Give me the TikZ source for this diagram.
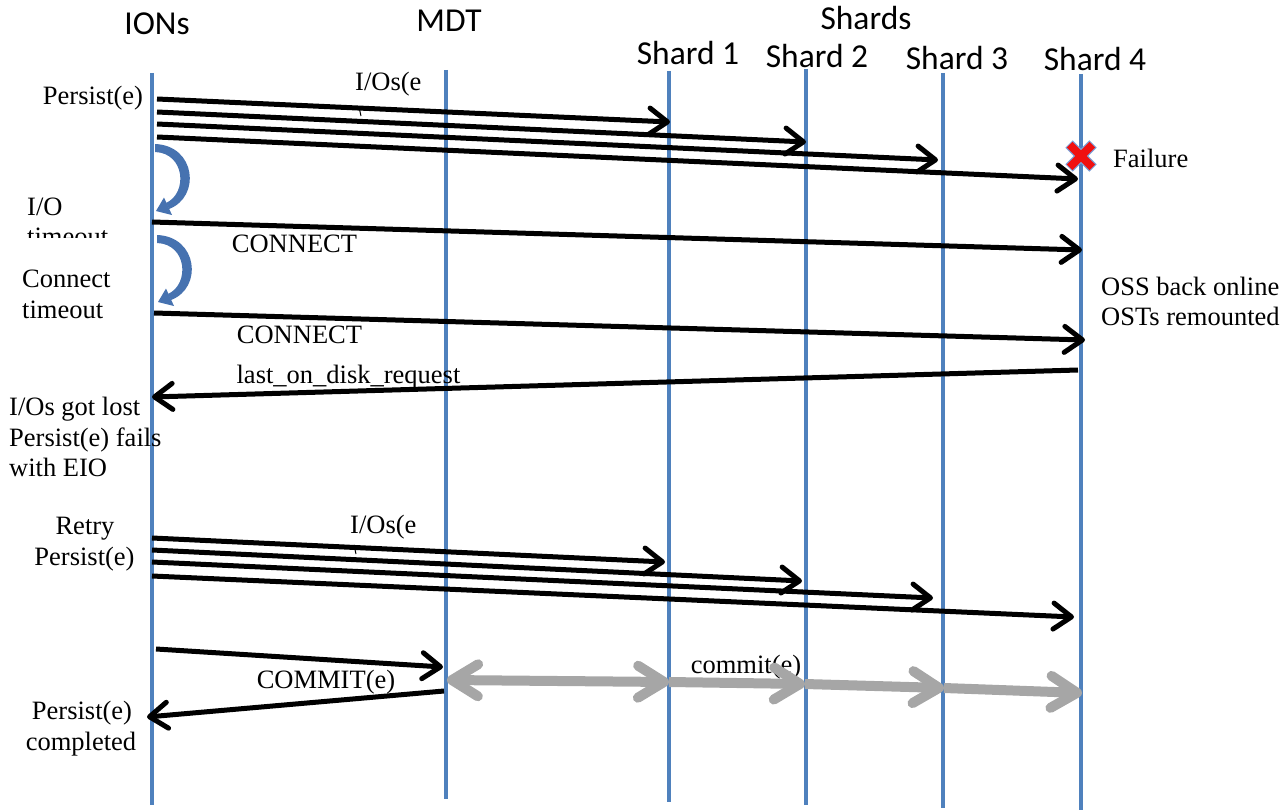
\documentclass[tikz,border=0pt]{standalone}
\usepackage{fontspec}
\setmainfont{Liberation Serif}
\newfontfamily\hdrfont{Carlito}
\usetikzlibrary{arrows.meta}
\definecolor{lifeblue}{HTML}{4F81BD}
\definecolor{curveblue}{HTML}{4672B0}
\definecolor{commitgray}{HTML}{A6A6A6}
\definecolor{failred}{HTML}{F01010}
\definecolor{failedge}{HTML}{7C9FD6}
\begin{document}
\begin{tikzpicture}[x=1bp,y=-1bp,
  lifeline/.style={draw=lifeblue,line width=4.6bp},
  hdr/.style={font=\hdrfont\fontsize{33.6}{36}\selectfont, inner sep=0pt, anchor=base},
  lbl/.style={font=\fontsize{26.6}{30}\selectfont, inner sep=0pt, anchor=base},
  lbll/.style={lbl, anchor=base west},
  msg/.style={draw=black,line width=5bp,-{Straight Barb[length=18bp,width=26bp,round]}},
  cmt/.style={draw=commitgray,line width=10bp,-{Straight Barb[length=26bp,width=32bp,round]}},
  cmtboth/.style={cmt,{Straight Barb[length=26bp,width=32bp,round]}-{Straight Barb[length=26bp,width=32bp,round]}},
  loopback/.style={fill=curveblue}]
\useasboundingbox (0,0) rectangle (1288,811);

% lifelines
\coordinate (ionT) at (152,73);   \coordinate (ionB) at (152,805);
\coordinate (mdtT) at (446,70);   \coordinate (mdtB) at (446,799);
\coordinate (s1T) at (669,71);    \coordinate (s1B) at (669,802);
\coordinate (s2T) at (806,69);    \coordinate (s2B) at (806,805);
\coordinate (s3T) at (943,73);    \coordinate (s3B) at (943,808);
\coordinate (s4T) at (1081,74);   \coordinate (s4B) at (1081,810);
\foreach \a/\b in {ionT/ionB,mdtT/mdtB,s1T/s1B,s2T/s2B,s3T/s3B,s4T/s4B}
  \draw[lifeline] (\a) -- (\b);

% headers
\node[hdr] (hIONs) at (157,35) {IONs};
\node[hdr] (hMDT) at (449,32) {MDT};
\node[hdr] (hShards) at (866,30) {Shards};
\node[hdr] (hS1) at (688,65) {Shard 1};
\node[hdr] (hS2) at (817,68) {Shard 2};
\node[hdr] (hS3) at (957,70) {Shard 3};
\node[hdr] (hS4) at (1095,71) {Shard 4};

% labels
\node[lbl] (tPersist) at (93,105) {Persist(e)};
\node[lbll] (tIOs) at (355,91) {I/Os(e};
\draw[line width=1bp] (359,107) -- (361,116);
\node[lbll] (tFailure) at (1113,167) {Failure};
\node[lbll] (tIO) at (27,215) {I/O};
\begin{scope}
  \clip (0,0) rectangle (140,237.5);
  \node[lbll] (tIOtime) at (27,245) {timeout};
\end{scope}
\node[lbl] (tConn1) at (294.5,252) {CONNECT};
\node[lbll] (tConnect) at (22,287) {Connect};
\node[lbll] (tConnTime) at (22,318) {timeout};
\node[lbl] (tConn2) at (299.5,343) {CONNECT};
\node[lbll] (tOSS) at (1101,295) {OSS back online};
\node[lbll] (tOST) at (1101,325) {OSTs remounted};
\node[lbl] (tLast) at (348.5,383) {last\_on\_disk\_request};
\node[lbll] (tLost1) at (9,415.5) {I/Os got lost};
\node[lbll] (tLost2) at (9,446) {Persist(e) fails};
\node[lbll] (tLost3) at (9,476) {with EIO};
\node[lbl] (tRetry) at (85,534.5) {Retry};
\node[lbl] (tRetryP) at (84.5,565) {Persist(e)};
\node[lbll] (tIOs2) at (350,533) {I/Os(e};
\draw[line width=1bp] (354,545) -- (356,554);
\node[lbl] (tCOMMIT) at (326,688) {COMMIT(e)};
\node[lbl] (tcommit) at (746,673) {commit(e)};
\node[lbl] (tDone1) at (82,719) {Persist(e)};
\node[lbl] (tDone2) at (81,750) {completed};

% first persist I/Os
\coordinate (p1s) at (157,99);  \coordinate (p1e) at (670,122);
\coordinate (p2s) at (157,112); \coordinate (p2e) at (806,142);
\coordinate (p3s) at (157,124); \coordinate (p3e) at (938,160);
\coordinate (p4s) at (157,137); \coordinate (p4e) at (1078,179);
\foreach \a/\b in {p1s/p1e,p2s/p2e,p3s/p3e,p4s/p4e}
  \draw[msg] (\a) -- (\b);

% failure mark
\coordinate (fail) at (1081,156);
\begin{scope}[shift={(fail)}]
  \draw[failedge,line width=10.5bp] (-12,-12) -- (12,12) (12,-12) -- (-12,12);
  \draw[failred,line width=8bp] (-11.3,-11.3) -- (11.3,11.3) (11.3,-11.3) -- (-11.3,11.3);
\end{scope}

% timeouts (tapered curved arrows)
\foreach \dx/\dy in {0/0,2/91}{
  \begin{scope}[shift={(\dx,\dy)}]
    \fill[loopback] (155,144) .. controls (196,145.5) and (201,197) .. (169,209)
      -- (166,203) .. controls (188,193) and (185,153) .. (155,152) -- cycle;
    \fill[loopback] (156,211) -- (172,215) -- (164,197.5) -- cycle;
  \end{scope}
}

% connects
\coordinate (k1s) at (152,222); \coordinate (k1e) at (1082,250);
\coordinate (k2s) at (154,313); \coordinate (k2e) at (1085,340);
\coordinate (lds) at (1078,370); \coordinate (lde) at (152,397);
\draw[msg] (k1s) -- (k1e);
\draw[msg] (k2s) -- (k2e);
\draw[msg] (lds) -- (lde);

% retry I/Os
\coordinate (r1s) at (152,538); \coordinate (r1e) at (665,562);
\coordinate (r2s) at (152,550); \coordinate (r2e) at (802,581);
\coordinate (r3s) at (152,562); \coordinate (r3e) at (933,598);
\coordinate (r4s) at (152,576); \coordinate (r4e) at (1074,617);
\foreach \a/\b in {r1s/r1e,r2s/r2e,r3s/r3e,r4s/r4e}
  \draw[msg] (\a) -- (\b);

% commit
\coordinate (c1s) at (156,649); \coordinate (c1e) at (443,667);
\coordinate (c2s) at (444,691); \coordinate (c2e) at (147,717);
\draw[msg] (c1s) -- (c1e);
\draw[msg] (c2s) -- (c2e);

\coordinate (g0) at (447,680);
\coordinate (g1) at (669,682);
\coordinate (g2) at (805,684);
\coordinate (g3) at (944,688);
\coordinate (g4) at (1082,693);
\draw[cmtboth] (g0) -- (g1);
\draw[cmt] (g1) -- (g2);
\draw[cmt] (g2) -- (g3);
\draw[cmt] (g3) -- (g4);
\end{tikzpicture}
\end{document}
